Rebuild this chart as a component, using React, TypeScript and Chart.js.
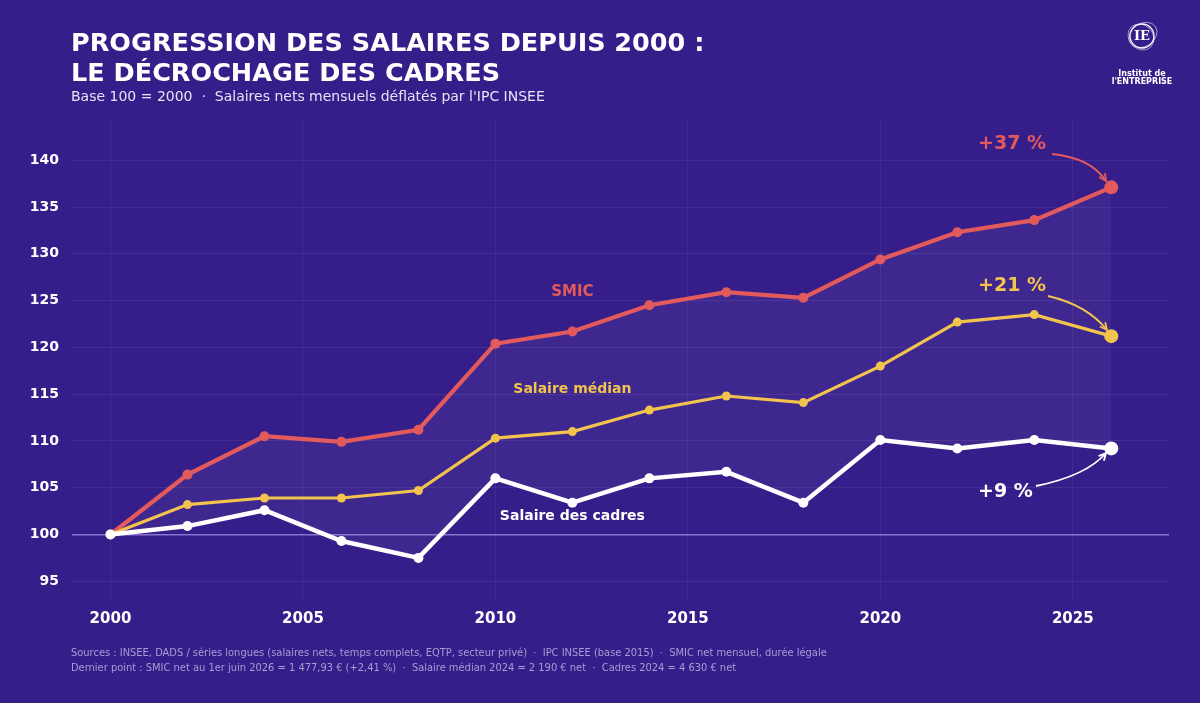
import React, { useEffect, useRef } from "react";
import { Chart, registerables } from "chart.js";

Chart.register(...registerables);

const years = [2000, 2002, 2004, 2006, 2008, 2010, 2012, 2014, 2016, 2018, 2020, 2022, 2024, 2026];
const smic = [100, 106.4, 110.5, 109.9, 111.2, 120.4, 121.7, 124.5, 125.9, 125.3, 129.4, 132.3, 133.6, 137.1];
const median = [100, 103.2, 103.9, 103.9, 104.7, 110.3, 111.0, 113.3, 114.8, 114.1, 118.0, 122.7, 123.5, 121.2];
const cadres = [100, 100.9, 102.6, 99.3, 97.5, 106.0, 103.4, 106.0, 106.7, 103.4, 110.1, 109.2, 110.1, 109.2];

const titleLines = ["PROGRESSION DES SALAIRES DEPUIS 2000 :", "LE DÉCROCHAGE DES CADRES"];
const subtitle = "Base 100 = 2000  ·  Salaires nets mensuels déflatés par l'IPC INSEE";
const footerLines = [
  "Sources : INSEE, DADS / séries longues (salaires nets, temps complets, EQTP, secteur privé)  ·  IPC INSEE (base 2015)  ·  SMIC net mensuel, durée légale",
  "Dernier point : SMIC net au 1er juin 2026 = 1 477,93 € (+2,41 %)  ·  Salaire médian 2024 = 2 190 € net  ·  Cadres 2024 = 4 630 € net",
];
const seriesLabels = [
  { text: "SMIC", x: 2012, y: 125.9, color: "#e25a5c", size: 15 },
  { text: "Salaire médian", x: 2012, y: 115.5, color: "#f2c44e", size: 14 },
  { text: "Salaire des cadres", x: 2012, y: 101.9, color: "#ffffff", size: 14 },
];
const gainLabels = [
  { text: "+37 %", color: "#e25a5c", tx: 978, ty: 144, path: [1052, 154, 1091, 158, 1106, 181] },
  { text: "+21 %", color: "#f2c44e", tx: 978, ty: 286, path: [1048, 296, 1087, 305, 1107, 330] },
  { text: "+9 %", color: "#ffffff", tx: 978, ty: 492, path: [1036, 486, 1086, 476, 1106, 453] },
];

const RED = "#e25a5c";
const YELLOW = "#f2c44e";
const WHITE = "#ffffff";
const BG = "#361e8a";
const FONT = "'DejaVu Sans', sans-serif";

const pts = (ys: number[]) => years.map((x, i) => ({ x, y: ys[i] }));
const radii = (big: number, small: number) => years.map((_, i) => (i === years.length - 1 ? big : small));

const overlay = {
  id: "overlay",
  afterDraw(chart: any) {
    const ctx = chart.ctx as CanvasRenderingContext2D;
    const xs = chart.scales.x;
    const ys = chart.scales.y;
    ctx.save();
    // Title
    ctx.fillStyle = "#ffffff";
    ctx.textAlign = "left";
    ctx.textBaseline = "alphabetic";
    ctx.font = `bold 25.5px ${FONT}`;
    ctx.fillText(titleLines[0], 71, 51);
    ctx.fillText(titleLines[1], 71, 81);
    ctx.font = `14px ${FONT}`;
    ctx.fillStyle = "#e6e2f5";
    ctx.fillText(subtitle, 71, 101);
    // Footer
    ctx.font = `11px 'DejaVu Sans Condensed', ${FONT}`;
    ctx.fillStyle = "#a79dd4";
    ctx.fillText(footerLines[0], 71, 656);
    ctx.fillText(footerLines[1], 71, 671);
    // Series labels
    ctx.textAlign = "center";
    ctx.textBaseline = "middle";
    for (const l of seriesLabels) {
      ctx.font = `bold ${l.size}px ${FONT}`;
      ctx.fillStyle = l.color;
      ctx.fillText(l.text, xs.getPixelForValue(l.x), ys.getPixelForValue(l.y));
    }
    // Gain labels + arrows
    for (const g of gainLabels) {
      ctx.font = `bold 19px ${FONT}`;
      ctx.fillStyle = g.color;
      ctx.textAlign = "left";
      ctx.fillText(g.text, g.tx, g.ty);
      const [x0, y0, cx, cy, x1, y1] = g.path;
      ctx.strokeStyle = g.color;
      ctx.lineWidth = 1.8;
      ctx.beginPath();
      ctx.moveTo(x0, y0);
      ctx.quadraticCurveTo(cx, cy, x1, y1);
      ctx.stroke();
      const ang = Math.atan2(y1 - cy, x1 - cx);
      const h = 8;
      ctx.beginPath();
      ctx.moveTo(x1 - h * Math.cos(ang - 0.45), y1 - h * Math.sin(ang - 0.45));
      ctx.lineTo(x1, y1);
      ctx.lineTo(x1 - h * Math.cos(ang + 0.45), y1 - h * Math.sin(ang + 0.45));
      ctx.stroke();
    }
    // Logo
    const lx = 1142, ly = 36;
    ctx.strokeStyle = "rgba(255,255,255,0.95)";
    ctx.lineWidth = 1.3;
    ctx.beginPath();
    ctx.arc(lx, ly, 12, 0, Math.PI * 2);
    ctx.stroke();
    ctx.strokeStyle = "rgba(255,255,255,0.6)";
    ctx.lineWidth = 0.9;
    ctx.beginPath();
    ctx.ellipse(lx + 1, ly - 1, 15, 11.5, -0.6, 0, Math.PI * 2);
    ctx.stroke();
    ctx.beginPath();
    ctx.ellipse(lx - 1, ly + 1, 14, 12, 0.8, 0, Math.PI * 2);
    ctx.stroke();
    ctx.fillStyle = "#ffffff";
    ctx.textAlign = "center";
    ctx.textBaseline = "middle";
    ctx.font = `bold 13px 'DejaVu Serif', serif`;
    ctx.fillText("IE", lx, ly + 1);
    ctx.font = `bold 8px ${FONT}`;
    ctx.fillText("Institut de", lx, 74);
    ctx.fillText("l'ENTREPRISE", lx, 82);
    ctx.restore();
  },
};

export default function App() {
  const ref = useRef<HTMLCanvasElement>(null);
  useEffect(() => {
    if (!ref.current) return;
    const chart = new Chart(ref.current, {
      type: "line",
      data: {
        datasets: [
          {
            label: "Salaire des cadres",
            data: pts(cadres),
            borderColor: WHITE,
            backgroundColor: WHITE,
            borderWidth: 4.5,
            pointRadius: radii(7, 5),
            pointBackgroundColor: WHITE,
            pointBorderWidth: 0,
            fill: false,
          },
          {
            label: "Salaire médian",
            data: pts(median),
            borderColor: YELLOW,
            backgroundColor: YELLOW,
            borderWidth: 3.2,
            pointRadius: radii(7, 4.5),
            pointBackgroundColor: YELLOW,
            pointBorderWidth: 0,
            fill: false,
          },
          {
            label: "SMIC",
            data: pts(smic),
            borderColor: RED,
            backgroundColor: "rgba(255,255,255,0.045)",
            borderWidth: 4.2,
            pointRadius: radii(7, 5),
            pointBackgroundColor: RED,
            pointBorderWidth: 0,
            fill: { target: 0 },
          },
        ],
      },
      options: {
        animation: false,
        responsive: false,
        maintainAspectRatio: false,
        layout: { padding: { left: 0, right: 31, top: 120, bottom: 0 } },
        plugins: { legend: { display: false }, tooltip: { enabled: false }, title: { display: false } },
        scales: {
          x: {
            type: "linear",
            min: 1999,
            max: 2027.5,
            afterFit: (s: any) => { s.height = 103; },
            border: { display: false },
            grid: { color: "rgba(255,255,255,0.06)", drawTicks: false, lineWidth: 1 },
            ticks: {
              stepSize: 5,
              includeBounds: false,
              padding: 10,
              color: "#ffffff",
              font: { family: FONT, size: 15, weight: "bold" },
              callback: (v: any) => String(v),
            },
          },
          y: {
            type: "linear",
            min: 93,
            max: 144.3,
            afterFit: (s: any) => { s.width = 72; },
            border: { display: false },
            grid: {
              drawTicks: false,
              color: (c: any) => (c.tick && c.tick.value === 100 ? "rgba(190,175,255,0.6)" : "rgba(255,255,255,0.07)"),
              lineWidth: (c: any) => (c.tick && c.tick.value === 100 ? 1.5 : 1),
            },
            ticks: {
              stepSize: 5,
              includeBounds: false,
              padding: 13,
              color: "#ffffff",
              font: { family: FONT, size: 14, weight: "bold" },
            },
          },
        },
      },
      plugins: [overlay],
    } as any);
    return () => chart.destroy();
  }, []);
  return (
    <div style={{ position: "fixed", left: 0, top: 0, width: 1200, height: 703, background: BG }}>
      <canvas ref={ref} width={1200} height={703} style={{ width: 1200, height: 703, display: "block" }} />
    </div>
  );
}
